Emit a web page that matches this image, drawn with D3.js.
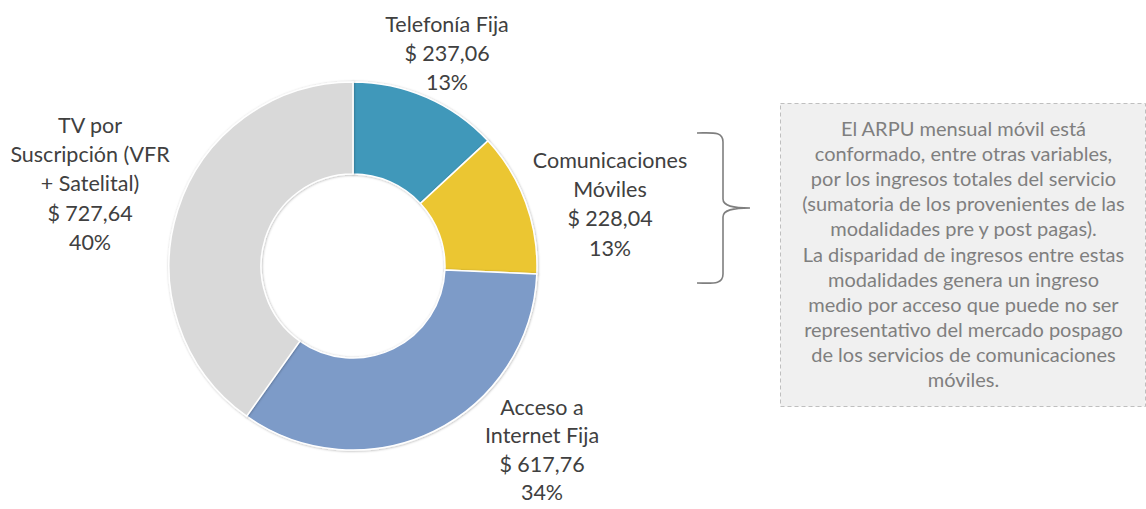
<!DOCTYPE html>
<html>
<head>
<meta charset="utf-8">
<script src="https://cdn.jsdelivr.net/npm/d3@7"></script>
<style>
  body { margin: 0; background: #fff; }
  svg { display: block; font-family: Lato, "Open Sans", sans-serif; }
  .lbl { fill: #404040; font-size: 21.5px; }
  .note { fill: #7f7f7f; font-size: 20px; }
</style>
</head>
<body>
<div id="chart"></div>
<script>
const services = ["Telefonía Fija", "Comunicaciones Móviles", "Acceso a Internet Fija", "TV por Suscripción (VFR + Satelital)"];
const values = [237.06, 228.04, 617.76, 727.64];
const valueLabels = ["$ 237,06", "$ 228,04", "$ 617,76", "$ 727,64"];
const pctLabels = ["13%", "13%", "34%", "40%"];
const nameLines = [
  ["Telefonía Fija"],
  ["Comunicaciones", "Móviles"],
  ["Acceso a", "Internet Fija"],
  ["TV por", "Suscripción (VFR", "+ Satelital)"]
];
const noteLines = [
  "El ARPU mensual móvil está",
  "conformado, entre otras variables,",
  "por los ingresos totales del servicio",
  "(sumatoria de los provenientes de las",
  "modalidades pre y post pagas).",
  "La disparidad de ingresos entre estas",
  "modalidades genera un ingreso",
  "medio por acceso que puede no ser",
  "representativo del mercado pospago",
  "de los servicios de comunicaciones",
  "móviles."
];

const width = 1146, height = 509;
const cx = 353, cy = 266;
const outerR = 184, innerR = 92;
const colors = ["#4198ba", "#ebc630", "#7d9bc8", "#d9d9d9"];

// label anchor positions (center x, first baseline, line step)
const labelPos = [[447, 32, 29.2], [610, 168, 29.2], [542, 415, 28.3], [90, 133, 29.2]];

const svg = d3.select("#chart").append("svg")
  .attr("width", width)
  .attr("height", height);

const defs = svg.append("defs");
const f = defs.append("filter").attr("id", "shadow")
  .attr("x", "-10%").attr("y", "-10%").attr("width", "120%").attr("height", "120%");
f.append("feDropShadow")
  .attr("dx", 0.5).attr("dy", 0.5)
  .attr("stdDeviation", 1.2)
  .attr("flood-color", "#000")
  .attr("flood-opacity", 0.3);

const pie = d3.pie().sort(null).value(d => d);
const arc = d3.arc().innerRadius(innerR).outerRadius(outerR);

const g = svg.append("g")
  .attr("transform", `translate(${cx},${cy})`);

g.selectAll("path")
  .data(pie(values))
  .enter().append("path")
    .attr("d", arc)
    .attr("fill", (d, i) => colors[i])
    .attr("stroke", "#fff")
    .attr("stroke-width", 1.5)
    .attr("filter", "url(#shadow)");

// labels
services.forEach((s, i) => {
  const [lx, ly, step] = labelPos[i];
  const lines = nameLines[i].concat([valueLabels[i], pctLabels[i]]);
  const t = svg.append("text")
    .attr("class", "lbl")
    .attr("text-anchor", "middle");
  lines.forEach((l, j) => {
    t.append("tspan")
      .attr("x", lx)
      .attr("y", ly + j * step)
      .text(l);
  });
});

// brace
svg.append("path")
  .attr("d", "M697,133 C712,133 723,131 723,142 L723,199 C723,206 733,208 750,208 C733,208 723,210 723,217 L723,274 C723,285 712,283 697,283")
  .attr("fill", "none")
  .attr("stroke", "#7f7f7f")
  .attr("stroke-width", 1.6);

// note box
const box = { x: 780, y: 103, w: 365, h: 303 };
svg.append("rect")
  .attr("x", box.x + 0.5)
  .attr("y", box.y + 0.5)
  .attr("width", box.w)
  .attr("height", box.h)
  .attr("fill", "#f0f0f0")
  .attr("stroke", "#bfbfbf")
  .attr("stroke-width", 1)
  .attr("stroke-dasharray", "4,3");

const note = svg.append("text")
  .attr("class", "note")
  .attr("text-anchor", "middle");
noteLines.forEach((l, j) => {
  note.append("tspan")
    .attr("x", box.x + box.w / 2 + 1)
    .attr("y", 136 + j * 25.1)
    .text(l);
});
</script>
</body>
</html>
